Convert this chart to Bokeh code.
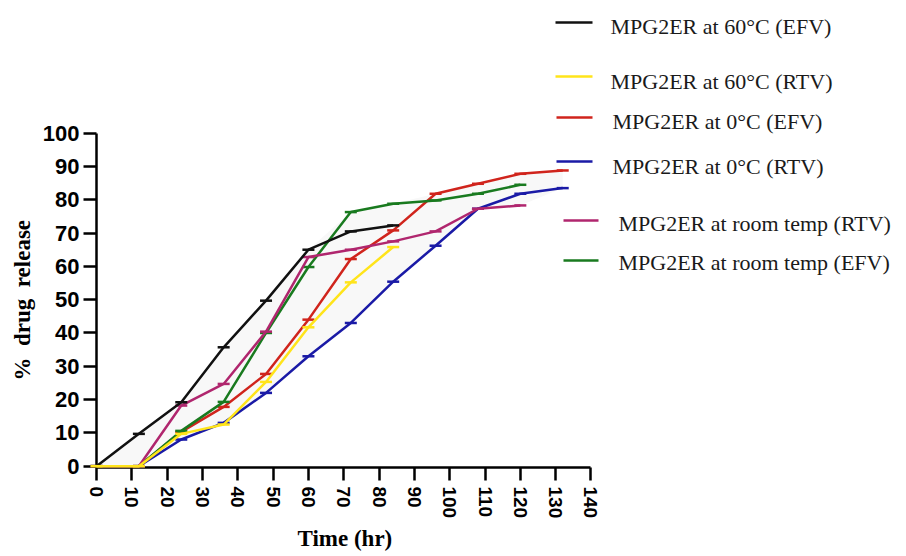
import numpy as np
from bokeh.plotting import figure
from bokeh.models import Range1d, FixedTicker, Title
from bokeh.core.properties import value
from bokeh.embed import file_html
from bokeh.resources import INLINE

# ---------------- data ----------------
time_hr = [0, 12, 24, 36, 48, 60, 72, 84, 96, 108, 120, 132]

rel_60c_efv = [0, 9.7, 19.2, 35.7, 49.7, 65.0, 70.5, 72.3]
rel_60c_rtv = [0, 0, 9.7, 12.5, 25.3, 41.7, 55.2, 65.8]
rel_0c_efv = [0, 0, 10.3, 17.8, 27.7, 44.0, 62.2, 70.8, 81.8, 84.8, 87.8, 88.8]
rel_0c_rtv = [0, 0, 8.0, 13.0, 22.0, 33.0, 43.0, 55.4, 66.2, 77.3, 81.8, 83.5]
rel_room_rtv = [0, 0, 18.2, 24.7, 40.4, 62.8, 65.0, 67.5, 70.5, 77.3, 78.3]
rel_room_efv = [0, 0, 10.6, 19.3, 40.0, 59.8, 76.3, 78.8, 79.8, 81.8, 84.5]

series_names = [
    "MPG2ER at 60°C (EFV)",
    "MPG2ER at 60°C (RTV)",
    "MPG2ER at 0°C (EFV)",
    "MPG2ER at 0°C (RTV)",
    "MPG2ER at room temp (RTV)",
    "MPG2ER at room temp (EFV)",
]
series_values = [rel_60c_efv, rel_60c_rtv, rel_0c_efv, rel_0c_rtv, rel_room_rtv, rel_room_efv]
series_colors = ["#111111", "#ffe41a", "#d0241c", "#1a1aa6", "#b0266e", "#197a1f"]

x_ticks = list(range(0, 141, 10))
y_ticks = list(range(0, 101, 10))

# ---------------- layout helpers (page pixel positions -> data) ----------------
W, H = 906, 556
PX_X = 3.532   # px per hour
PX_Y = 3.33    # px per %
ORIG_X = 96    # page px of the frame's left edge (x = 0)
FRAME_B = 467  # page px of the frame's bottom edge
Y0 = -0.4      # data value at the frame bottom


def dx(px):
    return (px - ORIG_X) / PX_X


def dy(py):
    return Y0 + (FRAME_B - py) / PX_Y


p = figure(
    width=W, height=H, title=None,
    output_backend="svg", toolbar_location=None,
    x_range=Range1d(0, dx(W)), y_range=Range1d(Y0, dy(0)),
    min_border_left=ORIG_X, min_border_bottom=H - FRAME_B,
    min_border_top=0, min_border_right=0,
)
p.outline_line_color = None
p.xgrid.visible = False
p.ygrid.visible = False
p.background_fill_color = "white"
p.border_fill_color = "white"

# faint shaded envelope between the curves
n = len(time_hr)
stack = np.full((len(series_values), n), np.nan)
for i, vals in enumerate(series_values):
    stack[i, :len(vals)] = vals
upper = np.nanmax(stack, axis=0)
lower = np.nanmin(stack, axis=0)
p.varea(x=time_hr, y1=lower, y2=upper, fill_color="#f8f8f8")

draw_order = [3, 2, 5, 4, 0, 1]
for i in draw_order:
    vals = series_values[i]
    t = time_hr[:len(vals)]
    p.line(t, vals, line_color=series_colors[i], line_width=2.5, level="overlay")
    p.scatter(t, vals, marker="dash", size=12, line_color=series_colors[i],
              line_width=2.5, level="overlay")

# axes
for ax, ticks, bnd in ((p.xaxis, x_ticks, (0, 140)), (p.yaxis, y_ticks, (0, 100))):
    ax.ticker = FixedTicker(ticks=ticks)
    ax.bounds = bnd
    ax.axis_line_width = 2.5
    ax.axis_line_color = "black"
    ax.major_tick_line_width = 2.5
    ax.major_tick_line_color = "black"
    ax.major_tick_in = 0
    ax.major_tick_out = 13
    ax.minor_tick_line_color = None
    ax.major_label_text_font = "Liberation Sans"
    ax.major_label_text_font_style = "bold"
    ax.major_label_text_color = "black"
    ax.axis_label_standoff = 0

p.xaxis.major_label_text_font_size = "19px"
p.xaxis.major_label_orientation = "vertical"
p.xaxis.major_label_standoff = 6
p.yaxis.major_label_text_font_size = "22px"
p.yaxis.major_label_standoff = 4

# axis titles (placed with Title so that they are not clipped by the frame)
p.add_layout(Title(text="Time (hr)", align="left", offset=201, vertical_align="bottom",
                   text_font="Liberation Serif", text_font_style="bold",
                   text_font_size="23px", text_color="black", standoff=4), "below")
p.add_layout(Title(text="%\u00a0 drug\u00a0 release", align="left", offset=87,
                   vertical_align="bottom",
                   text_font="Liberation Serif", text_font_style="bold",
                   text_font_size="23px", text_color="black", standoff=10), "left")

# legend (hand placed, irregular spacing as in the reference)
leg_line_y = [22, 76, 117, 161, 220, 260]
leg_text_y = [26, 81, 121, 166, 223, 262]
leg_line_x0 = [555, 555, 556, 556, 563, 563]
leg_line_x1 = [592, 592, 592, 592, 598, 598]
leg_text_x = [610, 610, 612, 612, 618, 618]

p.segment(x0=[dx(v) for v in leg_line_x0], y0=[dy(v) for v in leg_line_y],
          x1=[dx(v) for v in leg_line_x1], y1=[dy(v) for v in leg_line_y],
          line_color=series_colors, line_width=2.5)
p.text(x=[dx(v) for v in leg_text_x], y=[dy(v) for v in leg_text_y], text=series_names,
       text_font=value("Liberation Serif"), text_font_size="22px",
       text_baseline="middle", text_align="left", text_color="#1a1a1a")

open("out.html", "w").write(file_html(p, INLINE))
